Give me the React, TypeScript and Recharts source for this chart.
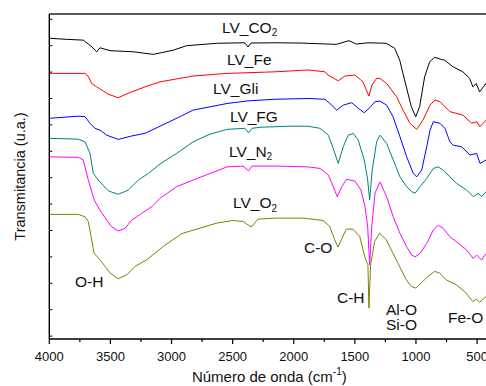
import React from 'react';
import { ComposedChart, Line, XAxis, YAxis, Scatter } from 'recharts';

// Wavenumber (cm-1) / transmittance (a.u., offset traces)
const LV_CO2: [number, number][] = [
  [3995, 11.28], [3858, 11.24], [3722, 11.21], [3653, 10.96], [3612, 10.77], [3585, 10.92],
  [3503, 10.81], [3313, 10.77], [3149, 10.67], [2986, 10.83], [2876, 11.0], [2630, 11.09],
  [2415, 11.11], [2399, 11.1], [2374, 10.95], [2350, 11.1], [2154, 11.11], [1948, 11.1],
  [1652, 11.05], [1548, 11.19], [1488, 11.06], [1393, 11.11], [1243, 11.09], [1174, 10.9],
  [1133, 10.45], [1079, 9.44], [1038, 8.69], [1002, 8.31], [970, 8.69], [929, 9.82],
  [888, 10.39], [847, 10.56], [793, 10.48], [765, 10.45], [697, 10.2], [616, 10.01],
  [561, 9.76], [534, 9.44], [507, 9.57], [479, 9.25], [427, 9.57],
];

const LV_FE: [number, number][] = [
  [3995, 9.95], [3708, 9.95], [3683, 9.85], [3653, 9.57], [3612, 9.44], [3520, 9.17],
  [3438, 9.03], [3326, 9.25], [3217, 9.44], [3094, 9.63], [2824, 9.85], [2546, 9.95],
  [2154, 10.01], [1884, 10.08], [1744, 10.01], [1720, 9.89], [1636, 9.67], [1581, 9.85],
  [1499, 9.89], [1434, 9.63], [1385, 9.09], [1360, 9.51], [1322, 9.76], [1295, 9.76],
  [1240, 9.57], [1158, 9.06], [1106, 8.56], [1049, 8.06], [994, 7.83], [943, 8.18],
  [885, 8.75], [845, 8.94], [804, 8.88], [722, 8.5], [616, 8.37], [544, 8.06],
  [503, 8.12], [476, 7.93], [427, 8.18],
];

const LV_GLI: [number, number][] = [
  [3995, 8.25], [3765, 8.33], [3708, 8.31], [3667, 8.06], [3626, 7.87], [3585, 7.8],
  [3530, 7.61], [3436, 7.45], [3326, 7.58], [3217, 7.68], [3094, 7.95], [2931, 8.31],
  [2824, 8.56], [2546, 8.81], [2374, 8.91], [2154, 8.97], [1884, 9.0], [1744, 8.97],
  [1704, 8.81], [1649, 8.56], [1595, 8.75], [1526, 8.84], [1472, 8.63], [1423, 8.46],
  [1376, 8.66], [1335, 8.88], [1295, 8.9], [1240, 8.75], [1188, 8.31], [1131, 7.55],
  [1076, 6.79], [1022, 6.16], [994, 6.03], [953, 6.29], [912, 7.17], [885, 7.8],
  [858, 8.12], [804, 8.06], [763, 7.87], [722, 7.36], [695, 7.23], [626, 7.17],
  [558, 6.86], [503, 6.92], [476, 6.54], [427, 6.67],
];

const LV_FG: [number, number][] = [
  [3995, 7.49], [3763, 7.46], [3708, 7.36], [3667, 6.92], [3640, 6.16], [3599, 5.91],
  [3517, 5.5], [3436, 5.37], [3354, 5.53], [3272, 5.91], [3190, 6.16], [3094, 6.52],
  [2958, 6.92], [2824, 7.36], [2685, 7.65], [2546, 7.83], [2399, 7.87], [2369, 7.7],
  [2342, 7.87], [2276, 7.91], [2154, 7.93], [2031, 7.95], [1884, 7.95], [1785, 7.87],
  [1717, 7.61], [1677, 7.11], [1636, 6.54], [1595, 7.17], [1554, 7.61], [1513, 7.68],
  [1472, 7.42], [1423, 6.67], [1395, 5.91], [1379, 5.15], [1358, 6.29], [1322, 7.36],
  [1295, 7.61], [1240, 7.3], [1186, 6.67], [1131, 6.03], [1076, 5.66], [1035, 5.47],
  [1008, 5.41], [967, 5.66], [912, 5.97], [858, 6.35], [818, 6.41], [777, 6.29],
  [722, 6.03], [667, 5.78], [585, 5.53], [531, 5.28], [490, 5.41], [463, 5.28], [427, 5.47],
];

const LV_N2: [number, number][] = [
  [3995, 6.79], [3763, 6.77], [3722, 6.67], [3681, 5.91], [3632, 5.15], [3585, 4.77],
  [3530, 4.39], [3490, 4.14], [3436, 3.98], [3381, 4.08], [3326, 4.39], [3244, 4.65],
  [3162, 4.9], [3094, 5.22], [2958, 5.66], [2824, 5.91], [2685, 6.16], [2546, 6.41],
  [2415, 6.44], [2369, 6.26], [2342, 6.44], [2276, 6.44], [2154, 6.44], [1884, 6.41],
  [1785, 6.35], [1717, 6.1], [1677, 5.66], [1644, 5.28], [1608, 5.66], [1567, 5.94],
  [1499, 5.87], [1450, 5.53], [1417, 4.9], [1395, 4.14], [1379, 2.69], [1362, 4.14],
  [1335, 5.41], [1295, 5.84], [1240, 5.28], [1186, 4.52], [1131, 3.89], [1076, 3.38],
  [1035, 3.07], [1008, 3.0], [967, 3.13], [912, 3.51], [858, 4.02], [818, 4.2],
  [777, 4.08], [722, 3.76], [667, 3.57], [585, 3.26], [531, 2.94], [503, 3.07],
  [463, 2.88], [427, 3.13],
];

const LV_O2: [number, number][] = [
  [3995, 4.61], [3763, 4.61], [3708, 4.52], [3681, 4.34], [3653, 3.64], [3634, 3.14],
  [3585, 2.89], [3503, 2.39], [3436, 2.17], [3367, 2.32], [3299, 2.64], [3203, 2.89],
  [3067, 3.4], [2917, 3.88], [2767, 4.09], [2630, 4.28], [2495, 4.38], [2415, 4.34],
  [2347, 4.13], [2293, 4.43], [2143, 4.47], [1924, 4.47], [1761, 4.38], [1706, 4.16],
  [1665, 3.65], [1638, 3.37], [1611, 3.65], [1570, 4.05], [1515, 4.05], [1461, 3.78],
  [1412, 2.89], [1393, 2.7], [1385, 1.06], [1371, 2.7], [1338, 3.59], [1297, 3.9],
  [1243, 3.65], [1161, 2.89], [1079, 2.13], [1038, 1.88], [1002, 1.82], [957, 2.01],
  [902, 2.26], [847, 2.45], [806, 2.39], [752, 2.13], [670, 1.94], [602, 1.69],
  [534, 1.31], [507, 1.4], [479, 1.28], [427, 1.5],
];

const SERIES_NAMES = ['LV_CO2', 'LV_Fe', 'LV_Gli', 'LV_FG', 'LV_N2', 'LV_O2'];
const SERIES_COLORS = ['#000000', '#ff0000', '#0000ff', '#008080', '#ff00ff', '#808000'];
const SERIES_DATA = [LV_CO2, LV_FE, LV_GLI, LV_FG, LV_N2, LV_O2];

// Series name labels: [wavenumber, transmittance, text, subscript]
const SERIES_LABELS: [number, number, string, string][] = [
  [2587, 11.7, 'LV_CO', '2'],
  [2546, 10.49, 'LV_Fe', ''],
  [2661, 9.36, 'LV_Gli', ''],
  [2522, 8.3, 'LV_FG', ''],
  [2530, 7.0, 'LV_N', '2'],
  [2497, 5.06, 'LV_O', '2'],
];

// Band assignments
const BAND_LABELS: [number, number, string][] = [
  [3790, 2.05, 'O-H'],
  [1916, 3.37, 'C-O'],
  [1646, 1.48, 'C-H'],
  [1245, 1.02, 'Al-O'],
  [1245, 0.45, 'Si-O'],
  [738, 0.72, 'Fe-O'],
];

const X_TICKS = [4000, 3750, 3500, 3250, 3000, 2750, 2500, 2250, 2000, 1750, 1500, 1250, 1000, 750, 500];
const Y_TICKS = [0, 1, 2, 3, 4, 5, 6, 7, 8, 9, 10, 11, 12];

const FONT = '"Liberation Sans", Arial, Helvetica, sans-serif';

const toPts = (arr: [number, number][]) => arr.map(([wn, t]) => ({ wn, t }));

const annotations = [
  ...SERIES_LABELS.map(([wn, t, text, sub]) => ({ wn, t, text, sub })),
  ...BAND_LABELS.map(([wn, t, text]) => ({ wn, t, text, sub: '' })),
];

const XTick = (props: any) => {
  const { x, y, payload } = props;
  const v = payload.value;
  const major = v % 500 === 0;
  return (
    <g>
      <line x1={x} x2={x} y1={y} y2={y + (major ? 5 : 3)} stroke="#000" strokeWidth={1.2} />
      {major && (
        <text x={x} y={y + 22} textAnchor="middle" fontSize={13} fontFamily={FONT} fill="#111">
          {v}
        </text>
      )}
    </g>
  );
};

const YTick = (props: any) => {
  const { x, y } = props;
  return <line x1={x} x2={x + 3} y1={y} y2={y} stroke="#000" strokeWidth={1} />;
};

const AnnotationShape = (props: any) => {
  const { cx, cy, payload } = props;
  if (cx == null || cy == null) return <g />;
  return (
    <text x={cx} y={cy} dominantBaseline="central" fontSize={15.5} fontFamily={FONT} fill="#111">
      {payload.text}
      {payload.sub ? (
        <tspan fontSize={10} dy={5}>
          {payload.sub}
        </tspan>
      ) : null}
    </text>
  );
};

const XTitle = (props: any) => {
  const vb = props.viewBox || { x: 49, y: 339, width: 440, height: 47 };
  const cx = vb.x + vb.width / 2;
  return (
    <text x={cx} y={vb.y + 43} textAnchor="middle" fontSize={15} fontFamily={FONT} fill="#111">
      Número de onda (cm
      <tspan fontSize={10} dy={-7}>-1</tspan>
      <tspan dy={7}>)</tspan>
    </text>
  );
};

const YTitle = (props: any) => {
  const vb = props.viewBox || { x: 0, y: 14, width: 49, height: 325 };
  const x = vb.x + 20;
  const y = vb.y + vb.height / 2;
  return (
    <text
      x={x}
      y={y}
      transform={`rotate(-90, ${x}, ${y})`}
      textAnchor="middle"
      dominantBaseline="central"
      fontSize={14.5}
      fontFamily={FONT}
      fill="#111"
    >
      Transmitancia (u.a.)
    </text>
  );
};

export default function App() {
  return (
    <div style={{ position: 'absolute', left: 0, top: 0, width: 486, height: 386, overflow: 'hidden', background: '#fff' }}>
      <ComposedChart
        width={500}
        height={386}
        margin={{ top: 13, right: 10.7, bottom: 0, left: 0 }}
      >
        <XAxis
          xAxisId={0}
          dataKey="wn"
          type="number"
          domain={[400, 4000]}
          reversed
          ticks={X_TICKS}
          interval={0}
          height={47}
          tickLine={false}
          tickSize={0}
          tickMargin={0}
          tick={<XTick />}
          axisLine={{ stroke: '#000', strokeWidth: 1.4 }}
          allowDataOverflow
          label={{ content: <XTitle /> } as any}
        />
        <XAxis
          xAxisId="top"
          dataKey="wn"
          type="number"
          orientation="top"
          domain={[400, 4000]}
          reversed
          height={1}
          tick={false}
          tickLine={false}
          axisLine={{ stroke: '#222', strokeWidth: 1.4 }}
          allowDataOverflow
        />
        <YAxis
          type="number"
          dataKey="t"
          domain={[-0.11, 12.2]}
          ticks={Y_TICKS}
          interval={0}
          width={49.3}
          tickLine={false}
          tickSize={0}
          tickMargin={0}
          tick={<YTick />}
          axisLine={{ stroke: '#000', strokeWidth: 1.4 }}
          allowDataOverflow
          label={{ content: <YTitle /> } as any}
        />
        {SERIES_DATA.map((d, i) => (
          <Line
            key={SERIES_NAMES[i]}
            name={SERIES_NAMES[i]}
            data={toPts(d)}
            dataKey="t"
            type="linear"
            stroke={SERIES_COLORS[i]}
            strokeWidth={1}
            dot={false}
            activeDot={false}
            isAnimationActive={false}
          />
        ))}
        <Scatter
          data={annotations}
          dataKey="t"
          shape={<AnnotationShape />}
          isAnimationActive={false}
        />
      </ComposedChart>
    </div>
  );
}
